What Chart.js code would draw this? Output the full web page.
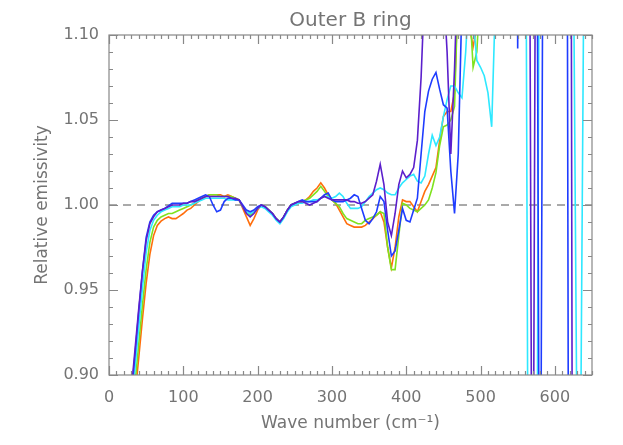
<!DOCTYPE html>
<html>
<head>
<meta charset="utf-8">
<script src="https://cdn.jsdelivr.net/npm/chart.js@4.4.1/dist/chart.umd.min.js"></script>
<style>
  html, body { margin: 0; padding: 0; background: #fff; }
</style>
</head>
<body>
<canvas id="ring-chart" width="623" height="445"></canvas>
<script>
// Wave numbers (cm^-1) shared by all five spectra
const waveNumber = [
  25, 30, 35, 40, 45, 50, 55, 60, 65, 70,
  75, 80, 85, 90, 95, 100, 105, 110, 115, 120,
  125, 130, 135, 140, 145, 150, 155, 160, 165, 170,
  175, 180, 185, 190, 195, 200, 205, 210, 215, 220,
  225, 230, 235, 240, 245, 250, 255, 260, 265, 270,
  275, 280, 285, 290, 295, 300, 305, 310, 315, 320,
  325, 330, 335, 340, 345, 350, 355, 360, 365, 370,
  375, 380, 385, 390, 395, 400, 405, 410, 415, 420,
  425, 430, 435, 440, 445, 450, 455, 460, 465, 470,
  475, 480, 485, 490, 495, 500, 505, 510, 515, 520,
  525, 530, 535, 540, 545, 550, 555, 560, 565, 570,
  575, 580, 585, 590, 595, 600, 605, 610, 615, 620,
  625, 630, 635, 640, 645
];

// Relative emissivity, one list per curve (values off the plot are rough)
const violetCurve = [
  0.868, 0.891, 0.915, 0.939, 0.961, 0.979, 0.989, 0.993, 0.996, 0.997,
  0.998, 0.999, 1.000, 1.000, 1.000, 1.001, 1.001, 1.002, 1.002, 1.003,
  1.004, 1.005, 1.005, 1.005, 1.005, 1.005, 1.005, 1.005, 1.004, 1.004,
  1.003, 0.999, 0.995, 0.993, 0.995, 0.998, 1.000, 0.999, 0.997, 0.995,
  0.992, 0.990, 0.993, 0.997, 1.000, 1.001, 1.002, 1.002, 1.001, 1.000,
  1.001, 1.002, 1.004, 1.005, 1.004, 1.003, 1.003, 1.003, 1.003, 1.003,
  1.002, 1.002, 1.001, 1.001, 1.002, 1.004, 1.006, 1.014, 1.024, 1.012,
  0.990, 0.982, 0.995, 1.012, 1.020, 1.016, 1.018, 1.022, 1.038, 1.075,
  1.13, 1.18, 1.20, 1.16, 1.14, 1.13, 1.09, 1.030, 1.08, 1.15,
  1.18, 1.20, 1.25, 1.22, 1.30, 1.28, 1.35, 1.30, 1.40, 1.35,
  1.45, 1.40, 1.50, 1.45, 1.40, 1.45, 1.40, 1.35, 1.30, 0.70,
  1.30, 1.40, 1.45, 1.40, 1.50, 1.45, 1.50, 1.55, 1.60, 1.60,
  0.50, null, null, null, null
];
const blueCurve = [
  0.865, 0.888, 0.912, 0.937, 0.961, 0.981, 0.990, 0.994, 0.996, 0.997,
  0.998, 0.9995, 1.001, 1.001, 1.001, 1.001, 1.001, 1.002, 1.003, 1.004,
  1.005, 1.006, 1.005, 1.000, 0.996, 0.997, 1.002, 1.004, 1.004, 1.003,
  1.003, 1.000, 0.997, 0.996, 0.997, 0.999, 1.000, 0.999, 0.997, 0.995,
  0.992, 0.990, 0.993, 0.997, 1.000, 1.001, 1.002, 1.003, 1.002, 1.002,
  1.002, 1.002, 1.004, 1.006, 1.007, 1.003, 1.002, 1.002, 1.002, 1.003,
  1.004, 1.006, 1.005, 0.998, 0.991, 0.989, 0.992, 0.996, 1.005, 1.002,
  0.985, 0.970, 0.973, 0.985, 0.998, 0.991, 0.990, 0.997, 1.004, 1.030,
  1.055, 1.067, 1.074, 1.078, 1.068, 1.059, 1.057, 1.020, 0.995, 1.030,
  1.12, 1.15, 1.20, 1.25, 1.22, 1.30, 1.28, 1.35, 1.30, 1.40,
  1.35, 1.45, 1.40, 1.50, 1.60, 1.092, 1.60, 1.45, 1.40, 1.35,
  1.30, 0.70, 1.30, 1.40, 1.45, 1.40, 1.50, 1.45, 1.50, 0.50,
  0.55, 0.50, 0.60, 0.55, null
];
const cyanCurve = [
  0.858, 0.880, 0.904, 0.928, 0.951, 0.972, 0.985, 0.991, 0.994, 0.996,
  0.997, 0.998, 0.999, 0.999, 0.999, 1.000, 1.000, 1.000, 1.001, 1.002,
  1.003, 1.004, 1.004, 1.004, 1.004, 1.004, 1.004, 1.003, 1.003, 1.003,
  1.003, 0.999, 0.996, 0.995, 0.996, 0.998, 0.999, 0.998, 0.996, 0.994,
  0.991, 0.989, 0.992, 0.996, 0.999, 1.000, 1.001, 1.001, 1.002, 1.002,
  1.003, 1.003, 1.004, 1.005, 1.005, 1.004, 1.005, 1.007, 1.005, 1.001,
  0.998, 0.998, 0.998, 0.999, 1.002, 1.005, 1.007, 1.009, 1.010, 1.009,
  1.007, 1.006, 1.006, 1.010, 1.013, 1.015, 1.017, 1.018, 1.014, 1.013,
  1.017, 1.030, 1.041, 1.035, 1.040, 1.052, 1.062, 1.070, 1.070, 1.066,
  1.063, 1.09, 1.13, 1.11, 1.085, 1.081, 1.076, 1.066, 1.046, 1.12,
  1.25, 1.30, 1.28, 1.35, 1.40, 1.35, 1.40, 1.30, 0.70, 0.60,
  0.70, 1.30, 1.40, 1.35, 1.45, 1.40, 1.50, 1.45, 1.40, 1.30,
  1.15, 0.85, 0.88, 1.20, 1.30
];
const greenCurve = [
  0.850, 0.872, 0.895, 0.918, 0.941, 0.962, 0.978, 0.987, 0.991, 0.993,
  0.994, 0.995, 0.995, 0.996, 0.997, 0.998, 0.999, 1.000, 1.001, 1.003,
  1.004, 1.005, 1.006, 1.006, 1.006, 1.005, 1.005, 1.005, 1.005, 1.004,
  1.003, 0.999, 0.996, 0.994, 0.996, 0.998, 1.000, 0.999, 0.997, 0.995,
  0.992, 0.990, 0.993, 0.997, 1.000, 1.001, 1.001, 1.002, 1.003, 1.004,
  1.006, 1.008, 1.011, 1.008, 1.005, 1.003, 1.001, 0.999, 0.995, 0.992,
  0.991, 0.990, 0.989, 0.989, 0.991, 0.992, 0.993, 0.994, 0.996, 0.995,
  0.975, 0.962, 0.962, 0.982, 1.001, 1.000, 0.998, 0.997, 0.996, 0.998,
  1.000, 1.003, 1.010, 1.019, 1.035, 1.046, 1.047, 1.050, 1.058, 1.13,
  1.16, 1.15, 1.12, 1.081, 1.090, 1.13, 1.20, 1.25, null, null,
  null, null, null, null, null, null, null, null, null, null,
  null, null, null, null, null, null, null, null, null, null,
  null, null, null, null, null
];
const orangeCurve = [
  0.843, 0.865, 0.888, 0.910, 0.933, 0.954, 0.971, 0.982, 0.988, 0.9905,
  0.992, 0.993, 0.992, 0.992, 0.9935, 0.995, 0.997, 0.998, 1.000, 1.002,
  1.004, 1.005, 1.006, 1.006, 1.006, 1.006, 1.005, 1.006, 1.005, 1.004,
  1.003, 0.998, 0.993, 0.988, 0.992, 0.997, 1.000, 0.999, 0.997, 0.995,
  0.992, 0.990, 0.993, 0.997, 1.000, 1.001, 1.001, 1.002, 1.003, 1.005,
  1.008, 1.010, 1.013, 1.010, 1.006, 1.003, 1.001, 0.997, 0.993, 0.989,
  0.988, 0.987, 0.987, 0.987, 0.988, 0.990, 0.992, 0.994, 0.996, 0.990,
  0.975, 0.963, 0.975, 0.993, 1.003, 1.002, 1.002, 0.999, 0.996, 1.002,
  1.008, 1.012, 1.017, 1.022, 1.038, 1.052, 1.055, 1.055, 1.066, 1.13,
  1.15, 1.13, 1.105, 1.093, 1.105, 1.13, 1.18, 1.22, null, null,
  null, null, null, null, null, null, null, null, null, null,
  null, null, null, null, null, null, null, null, null, null,
  null, null, null, null, null
];

// dashed reference level
const refX = [0, 650];
const refY = [1.0, 1.0];

// axis ticks
const xTicks = [0, 100, 200, 300, 400, 500, 600];
const yTicks = [0.90, 0.95, 1.00, 1.05, 1.10];

const chartTitle = "Outer B ring";
const grey = "#747474";
const fontFamily = "'DejaVu Sans', sans-serif";

function toPoints(ys) {
  const pts = [];
  ys.forEach((y, i) => {
    if (y !== null) pts.push({ x: waveNumber[i], y: y });
  });
  return pts;
}

function curve(ys, color) {
  return {
    data: toPoints(ys),
    showLine: true,
    borderColor: color,
    borderWidth: 1.6,
    pointRadius: 0,
    tension: 0,
    clip: 0,
  };
}

// IDL style box with inward ticks on all four sides, title centred on the plot
const idlFrame = {
  id: "idlFrame",
  afterDraw(chart) {
    const { ctx, chartArea: a } = chart;
    const sx = chart.scales.x, sy = chart.scales.y;
    ctx.save();
    ctx.strokeStyle = "#888";
    ctx.lineWidth = 1.2;
    ctx.strokeRect(a.left, a.top, a.right - a.left, a.bottom - a.top);
    ctx.beginPath();
    for (let v = 0; v <= 650; v += 10) {
      const px = Math.round(sx.getPixelForValue(v)) + 0.5;
      const len = v % 100 === 0 ? 9 : 4;
      ctx.moveTo(px, a.bottom); ctx.lineTo(px, a.bottom - len);
      ctx.moveTo(px, a.top); ctx.lineTo(px, a.top + len);
    }
    for (let k = 0; k <= 20; k++) {
      const v = 0.90 + k * 0.01;
      const py = Math.round(sy.getPixelForValue(v)) + 0.5;
      const len = k % 5 === 0 ? 9 : 4;
      ctx.moveTo(a.left, py); ctx.lineTo(a.left + len, py);
      ctx.moveTo(a.right, py); ctx.lineTo(a.right - len, py);
    }
    ctx.stroke();

    ctx.fillStyle = grey;
    ctx.font = "20px " + fontFamily;
    ctx.textAlign = "center";
    ctx.textBaseline = "alphabetic";
    ctx.fillText(chartTitle, (a.left + a.right) / 2, 26);
    ctx.restore();
  }
};

const ctx = document.getElementById("ring-chart").getContext("2d");
const chart = new Chart(ctx, {
  type: "scatter",
  data: {
    datasets: [
      curve(violetCurve, "#5b1fcc"),
      curve(blueCurve, "#1e3cff"),
      curve(cyanCurve, "#2ee8ff"),
      curve(greenCurve, "#7fe21e"),
      curve(orangeCurve, "#ff6e0c"),
      {
        data: refX.map((x, i) => ({ x: x, y: refY[i] })),
        showLine: true,
        borderColor: "#555",
        borderWidth: 1,
        borderDash: [8, 6],
        pointRadius: 0,
        clip: 0,
      },
    ],
  },
  options: {
    responsive: false,
    animation: false,
    devicePixelRatio: 1,
    layout: { padding: { left: 0, right: 31, top: 35, bottom: 0 } },
    plugins: {
      legend: { display: false },
      tooltip: { enabled: false },
      title: { display: false },
    },
    scales: {
      x: {
        type: "linear",
        min: 0,
        max: 650,
        grid: { display: false, drawTicks: false },
        border: { display: false },
        afterBuildTicks: (s) => { s.ticks = xTicks.map((v) => ({ value: v })); },
        afterFit: (s) => { s.height = 70; },
        ticks: {
          color: grey,
          padding: 13,
          maxRotation: 0,
          autoSkip: false,
          font: { family: fontFamily, size: 16 },
          callback: (v) => String(v),
        },
        title: {
          display: true,
          text: "Wave number (cm\u207B\u00B9)",
          color: grey,
          font: { family: fontFamily, size: 17 },
          padding: { top: 0, bottom: 11 },
        },
      },
      y: {
        type: "linear",
        min: 0.90,
        max: 1.10,
        grid: { display: false, drawTicks: false },
        border: { display: false },
        afterBuildTicks: (s) => { s.ticks = yTicks.map((v) => ({ value: v })); },
        afterFit: (s) => { s.width = 109; },
        ticks: {
          color: grey,
          padding: 10,
          font: { family: fontFamily, size: 16 },
          callback: (v) => Number(v).toFixed(2),
        },
        title: {
          display: true,
          text: "Relative emissivity",
          color: grey,
          font: { family: fontFamily, size: 17 },
          padding: { top: 32, bottom: 0 },
        },
      },
    },
  },
  plugins: [idlFrame],
});
</script>
</body>
</html>
